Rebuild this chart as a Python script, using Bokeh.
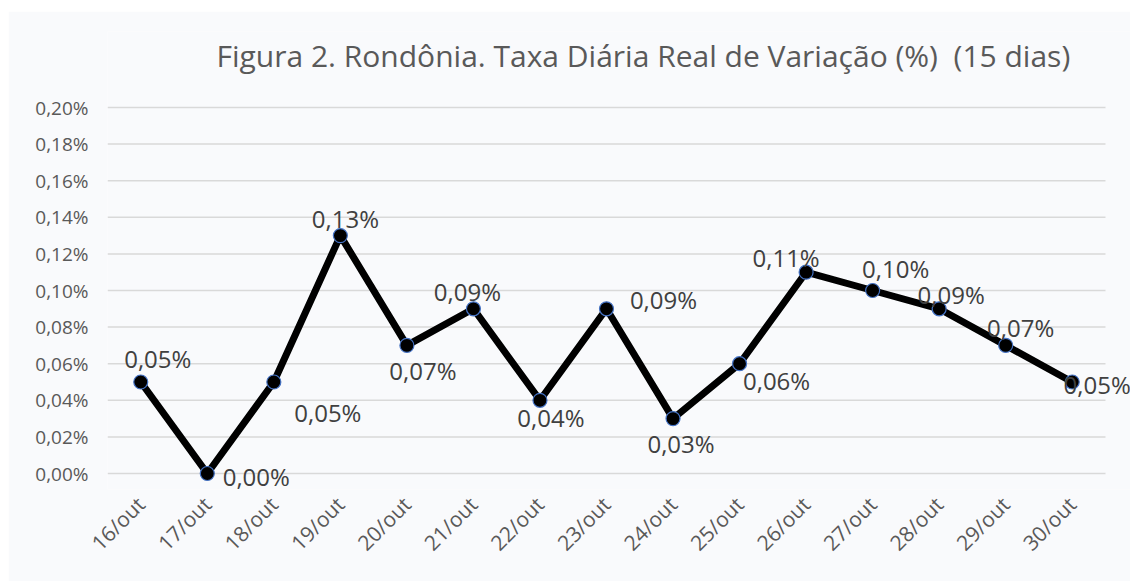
import math
from bokeh.plotting import figure
from bokeh.models import ColumnDataSource, Label, CustomJSTickFormatter, Range1d, FixedTicker
from bokeh.embed import file_html
from bokeh.resources import INLINE

# ---- data ----
categories = ["16/out", "17/out", "18/out", "19/out", "20/out", "21/out", "22/out", "23/out",
              "24/out", "25/out", "26/out", "27/out", "28/out", "29/out", "30/out"]
rates = [0.05, 0.00, 0.05, 0.13, 0.07, 0.09, 0.04, 0.09, 0.03, 0.06, 0.11, 0.10, 0.09, 0.07, 0.05]
rate_labels = ["0,05%", "0,00%", "0,05%", "0,13%", "0,07%", "0,09%", "0,04%", "0,09%",
               "0,03%", "0,06%", "0,11%", "0,10%", "0,09%", "0,07%", "0,05%"]
y_ticks = [0.00, 0.02, 0.04, 0.06, 0.08, 0.10, 0.12, 0.14, 0.16, 0.18, 0.20]
title_text = "Figura 2. Rondônia. Taxa Diária Real de Variação (%)\u00a0 (15 dias)"

# ---- label placement (screen px) ----
label_dx = [17, 49, 54, 5, 16, -6, 11, 57, 8, 37, -20, 23, 12, 15, 25]
label_dy = [24, -3, -30, 17, -25, 17, -17, 9, -25, -17, 15, 22, 14, 18, -2]

FONT = "Open Sans"
BG = "#f9fafc"

n = len(categories)
xpos = list(range(n))
# layout: 998 px for the categories, 25 px extra room on the right for labels;
# 366 px for the value axis, 16 px below zero and 76 px above the top tick for the title
cat_px = 998 / n
x_end = n - 0.5 + 25 / cat_px
y_px = 366 / y_ticks[-1]
y_start = -16 / y_px
y_end = y_ticks[-1] + 76 / y_px

p = figure(x_range=Range1d(-0.5, x_end), y_range=Range1d(y_start, y_end),
           width=1122, height=570, output_backend="svg", toolbar_location=None,
           min_border_left=99, min_border_right=0, min_border_top=20, min_border_bottom=92)
p.margin = (11, 0, 0, 8)
p.title.text = ""

p.background_fill_color = BG
p.border_fill_color = BG
p.outline_line_color = None

# chart title (drawn inside the plotting frame, above the top gridline)
p.add_layout(Label(x=-0.5, y=y_ticks[-1], x_offset=109, y_offset=52, text=title_text,
                   text_font=FONT, text_font_size="30px", text_color="#595959",
                   text_align="left", text_baseline="middle"))

# horizontal gridlines spanning the category area only
p.segment(x0=[-0.5] * len(y_ticks), x1=[n - 0.5] * len(y_ticks), y0=y_ticks, y1=y_ticks,
          line_color="#d9d9d9", line_width=1.5)

src = ColumnDataSource(dict(x=xpos, y=rates))
p.line("x", "y", source=src, line_color="black", line_width=7, line_join="round")
p.scatter("x", "y", source=src, size=14, fill_color="black", line_color="#4472C4", line_width=1.2)

for i, (val, lab, dx, dy) in enumerate(zip(rates, rate_labels, label_dx, label_dy)):
    p.add_layout(Label(x=xpos[i], y=val, text=lab, x_offset=dx, y_offset=dy,
                       text_font=FONT, text_font_size="24px", text_color="#404040",
                       text_align="center", text_baseline="middle"))

# axes
p.yaxis.ticker = FixedTicker(ticks=y_ticks)
p.yaxis.formatter = CustomJSTickFormatter(code="return tick.toFixed(2).replace('.', ',') + '%';")
p.xaxis.ticker = FixedTicker(ticks=xpos)
p.xaxis.major_label_overrides = {i: c for i, c in zip(xpos, categories)}
for ax in (p.xaxis[0], p.yaxis[0]):
    ax.axis_line_color = None
    ax.major_tick_line_color = None
    ax.minor_tick_line_color = None
    ax.major_label_text_font = FONT
    ax.major_label_text_color = "#595959"
p.yaxis.major_label_text_font_size = "19px"
p.xaxis.major_label_text_font_size = "21px"
p.yaxis.major_label_standoff = 13
p.xaxis.major_label_orientation = math.pi / 4
p.xaxis.major_label_standoff = 5

p.xgrid.grid_line_color = None
p.ygrid.grid_line_color = None

open("out.html", "w").write(file_html(p, INLINE))
